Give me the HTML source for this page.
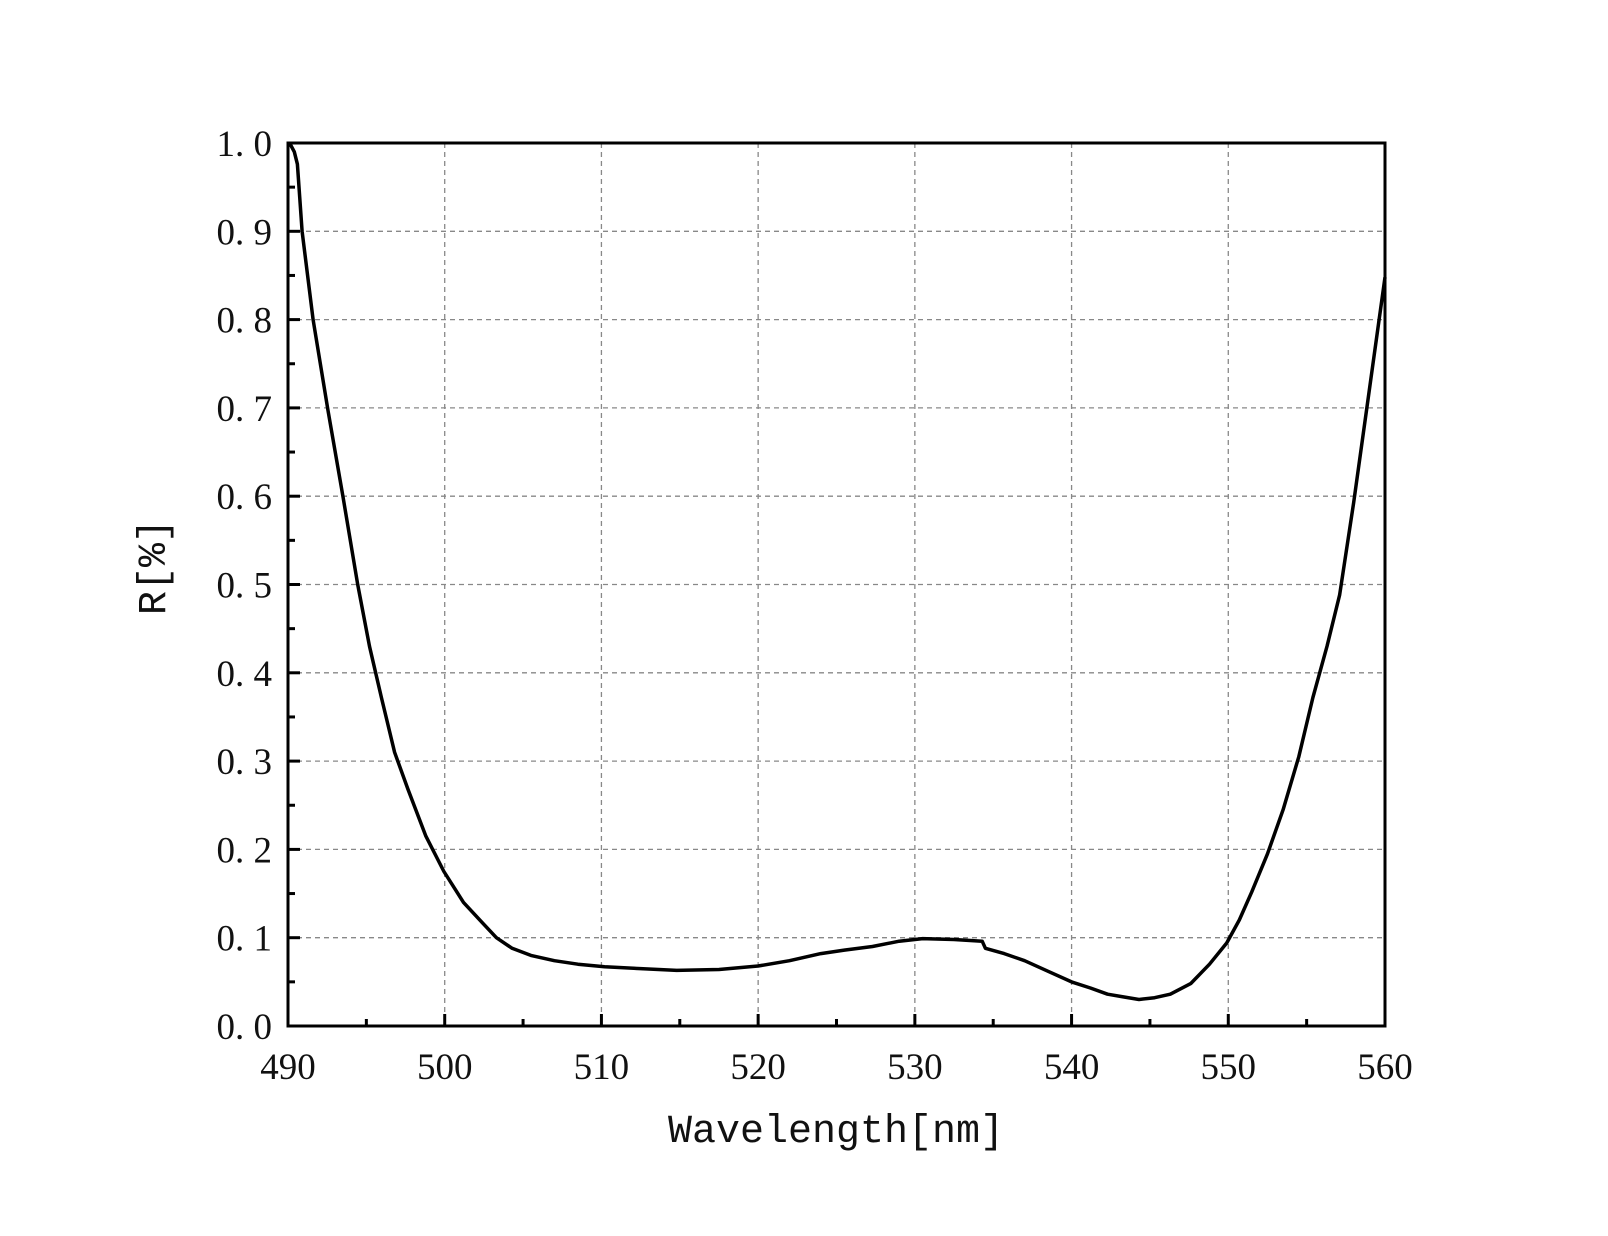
<!DOCTYPE html>
<html><head><meta charset="utf-8"><style>
html,body{margin:0;padding:0;background:#fff;}
svg text{font-family:"Liberation Serif",serif;fill:#111;}
</style></head><body>
<svg id="chart" width="1608" height="1231" xmlns="http://www.w3.org/2000/svg">
<g id="grid"></g>
<g id="ticks"></g>
<path id="curve" fill="none" stroke="#000" stroke-width="3.5" stroke-linejoin="round"/>
<rect x="288" y="143" width="1097" height="883" fill="none" stroke="#000" stroke-width="3"/>
<text x="836" y="1142" text-anchor="middle" font-size="40" style="font-family:'Liberation Mono',monospace">Wavelength[nm]</text>
<text transform="translate(165,567) rotate(-90)" text-anchor="middle" font-size="40" style="font-family:'Liberation Mono',monospace">R[%]</text>
</svg>
<script>
const xTicks=[490,500,510,520,530,540,550,560];
const yTicks=[0.0,0.1,0.2,0.3,0.4,0.5,0.6,0.7,0.8,0.9,1.0];
const wavelengths=[490.1,490.4,490.6,490.9,491.6,492.55,493.5,494.45,495.2,495.96,496.8,497.66,498.8,499.95,501.2,502.4,503.3,504.3,505.5,507,508.5,510.2,512.5,514.8,517.5,520,522,524,525.5,527.3,529,530.5,532.5,534.3,534.5,535.7,537,538.5,540,541.2,542.3,543.3,544.3,545.3,546.3,547.6,548.8,549.9,550.7,551.5,552.5,553.5,554.5,555.4,556.3,557.1,558,559,560];
const reflectance=[1.0,0.99,0.976,0.9,0.8,0.697,0.6,0.5,0.43,0.372,0.31,0.268,0.215,0.175,0.14,0.117,0.1,0.088,0.08,0.074,0.07,0.067,0.065,0.063,0.064,0.068,0.074,0.082,0.086,0.09,0.096,0.099,0.098,0.096,0.088,0.082,0.074,0.062,0.05,0.043,0.036,0.033,0.030,0.032,0.036,0.048,0.07,0.094,0.12,0.152,0.195,0.245,0.305,0.372,0.43,0.488,0.593,0.72,0.848];
const L=288,R=1385,T=143,B=1026;
const sx=v=>L+(v-490)/(560-490)*(R-L);
const sy=v=>B-(v-0)/(1.0-0)*(B-T);
const NS="http://www.w3.org/2000/svg";
const grid=document.getElementById('grid'),ticks=document.getElementById('ticks');
function ln(p,x1,y1,x2,y2,st,w,dash){const l=document.createElementNS(NS,'line');l.setAttribute('x1',x1);l.setAttribute('y1',y1);l.setAttribute('x2',x2);l.setAttribute('y2',y2);l.setAttribute('stroke',st);l.setAttribute('stroke-width',w);if(dash)l.setAttribute('stroke-dasharray',dash);p.appendChild(l);return l;}
function tx(x,y,s,anchor,name){const t=document.createElementNS(NS,'text');t.setAttribute('x',x);t.setAttribute('y',y);t.setAttribute('text-anchor',anchor);t.setAttribute('font-size','37');t.textContent=s;


document.getElementById('chart').appendChild(t);}
xTicks.forEach(v=>{const x=sx(v);
 if(v>490&&v<560){const g=ln(grid,x,T,x,B,'#888',1.3,'5,4');
 
 }
 ln(ticks,x,B,x,B-12,'#000',3);
 if(v<560){ln(ticks,sx(v+5),B,sx(v+5),B-7,'#000',3);}
 tx(x,B+53,String(v),'middle','x-tick-label');});
yTicks.forEach(v=>{const y=sy(v);
 if(v>0&&v<1){const g=ln(grid,L,y,R,y,'#888',1.3,'5,4');
 
 }
 ln(ticks,L,y,L+12,y,'#000',3);
 if(v<1){ln(ticks,L,sy(v+0.05),L+7,sy(v+0.05),'#000',3);}
 tx(L-16,y+13,v.toFixed(1).replace('.','. '),'end','y-tick-label');});
let d='';wavelengths.forEach((w,i)=>{d+=(i?'L':'M')+sx(w).toFixed(1)+','+sy(reflectance[i]).toFixed(1);});
document.getElementById('curve').setAttribute('d',d);
</script>
</body></html>
